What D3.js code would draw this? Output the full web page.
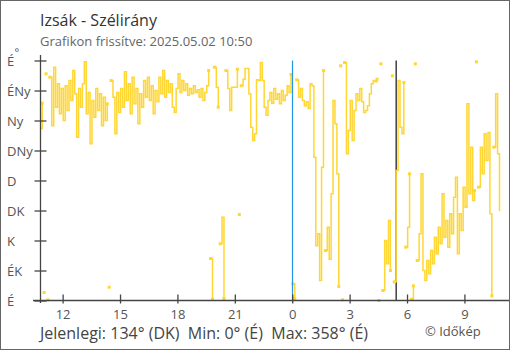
<!DOCTYPE html>
<html>
<head>
<meta charset="utf-8">
<script src="https://cdn.jsdelivr.net/npm/d3@7"></script>
<style>
  html, body { margin: 0; padding: 0; background: #fff; }
  svg { display: block; font-family: "Open Sans", "Noto Sans", sans-serif; }
  .pre { white-space: pre; }
</style>
</head>
<body>
<svg id="chart" width="510" height="350"></svg>
<script>
// Wind direction readings (degrees), one every 6 minutes over the last 24 hours
const startTime = "2025-05-01T10:50:00";
const endTime = "2025-05-02T10:50:00";
const stepMinutes = 6;
const windDir = [
  258, 296, 12, 340, 1, 335, 262, 350, 290, 325,
  280, 318, 270, 322, 285, 330, 300, 345, 310, 245,
  318, 290, 325, 358, 280, 312, 235, 300, 275, 318,
  285, 310, 262, 305, 270, 295, 20, 330, 305, 250,
  312, 282, 318, 290, 343, 300, 325, 280, 335, 295,
  318, 265, 310, 290, 330, 305, 335, 300, 322, 280,
  315, 298, 335, 310, 345, 305, 330, 312, 325, 290,
  282, 318, 340, 312, 330, 315, 325, 308, 318, 310,
  322, 312, 316, 305, 318, 300, 312, 322, 345, 63,
  2, 350, 320, 290, 85, 125, 3, 345, 318, 285,
  320, 320, 320, 347, 129, 322, 332, 348, 348, 310,
  260, 240, 250, 331, 330, 357, 330, 290, 278, 300,
  312, 296, 318, 302, 310, 295, 315, 300, 308, 322,
  312, 339, 25, 3, 331, 305, 318, 300, 292, 298,
  288, 325, 322, 215, 82, 100, 30, 200, 345, 75,
  110, 62, 160, 300, 265, 190, 21, 352, 1, 357,
  220, 255, 300, 240, 285, 310, 300, 318, 298, 282,
  285, 292, 310, 325, 330, 328, 332, 0, 355, 15,
  90, 55, 120, 45, 337, 28, 195, 330, 260, 250,
  327, 80, 110, 190, 2, 22, 355, 60, 100, 190,
  45, 30, 60, 40, 75, 55, 95, 70, 110, 85,
  160, 95, 120, 80, 130, 100, 155, 185, 70, 130,
  105, 170, 140, 295, 160, 230, 150, 165, 358, 170,
  230, 190, 250, 210, 252, 130, 7, 230, 310, 220,
  134
];

// Compass points on the value axis
const dirDegrees = [0, 45, 90, 135, 180, 225, 270, 315, 360];
const dirLabels = ["É", "ÉK", "K", "DK", "D", "DNy", "Ny", "ÉNy", "É"];

// Hour ticks on the time axis
const hourTicks = [
  "2025-05-01T12:00:00", "2025-05-01T15:00:00", "2025-05-01T18:00:00",
  "2025-05-01T21:00:00", "2025-05-02T00:00:00", "2025-05-02T03:00:00",
  "2025-05-02T06:00:00", "2025-05-02T09:00:00"
];
const midnight = "2025-05-02T00:00:00";
const sunrise = "2025-05-02T05:26:00";

const titleText = "Izsák - Szélirány";
const updatedText = "Grafikon frissítve: 2025.05.02 10:50";
const creditText = "© Időkép";

const svg = d3.select("#chart");
const W = 510, H = 350;

const t0 = new Date(startTime);
const points = windDir.map((v, i) => ({ t: new Date(t0.getTime() + i * stepMinutes * 60000), v }));

const x = d3.scaleTime().domain([new Date(startTime), new Date(endTime)]).range([40.3, 499.5]);
const y = d3.scaleLinear().domain([0, 360]).range([300.5, 60.5]);

// outer frame
svg.append("rect").attr("x", 0.5).attr("y", 0.5).attr("width", W - 1).attr("height", H - 1)
  .attr("fill", "#fff").attr("stroke", "#666").attr("stroke-width", 1);

// titles
svg.append("text").attr("x", 40).attr("y", 26).attr("font-size", 16).attr("fill", "#333").text(titleText);
svg.append("text").attr("x", 40).attr("y", 45.5).attr("font-size", 13).attr("fill", "#666").text(updatedText);

const axisColor = "#444";

// sunrise marker
svg.append("line")
  .attr("x1", x(new Date(sunrise))).attr("x2", x(new Date(sunrise)))
  .attr("y1", y(360)).attr("y2", y(0))
  .attr("stroke", "#333").attr("stroke-width", 1.4);

// split the series where the direction wraps across north
const segments = [];
let cur = [points[0]];
for (let i = 1; i < points.length; i++) {
  if (Math.abs(points[i].v - points[i - 1].v) > 180) { segments.push(cur); cur = []; }
  cur.push(points[i]);
}
segments.push(cur);

const line = d3.line().x(d => x(d.t)).y(d => y(d.v)).curve(d3.curveStepAfter);
const color = "#ffd633";

svg.append("g").selectAll("path").data(segments.filter(s => s.length > 1)).join("path")
  .attr("d", line).attr("fill", "none").attr("stroke", color)
  .attr("stroke-width", 1.5).attr("stroke-linejoin", "miter");

// end markers where a run is cut by the wrap
const markers = [];
segments.forEach((s, k) => {
  if (k > 0) markers.push(s[0]);
  if (k < segments.length - 1 && (s.length > 1 || k === 0)) markers.push(s[s.length - 1]);
});
svg.append("g").selectAll("rect").data(markers).join("rect")
  .attr("x", d => x(d.t) - 1.5).attr("y", d => y(d.v) - 1.5)
  .attr("width", 3).attr("height", 3).attr("fill", color);

// midnight marker
svg.append("line")
  .attr("x1", Math.round(x(new Date(midnight))) + 0.5).attr("x2", Math.round(x(new Date(midnight))) + 0.5)
  .attr("y1", y(360)).attr("y2", y(0))
  .attr("stroke", "#2196e8").attr("stroke-width", 1.2);

// y axis
const yAxis = d3.axisLeft(y).tickValues(dirDegrees).tickFormat((d, i) => dirLabels[i]).tickSize(0);
const gy = svg.append("g").attr("transform", "translate(40.5,0)").call(yAxis);
gy.select(".domain").remove();
gy.selectAll(".tick line").attr("x1", -6).attr("x2", 6).attr("stroke", axisColor).attr("stroke-width", 1.3);
gy.selectAll(".tick text").attr("x", -33.5).attr("text-anchor", "start").attr("dy", "0.35em")
  .attr("font-size", 13).attr("font-family", "Open Sans, sans-serif").attr("fill", "#555");
svg.append("line").attr("x1", 40.5).attr("x2", 40.5).attr("y1", 55).attr("y2", 303)
  .attr("stroke", axisColor).attr("stroke-width", 1.3);
svg.append("text").attr("x", 14.5).attr("y", 56).attr("font-size", 11).attr("fill", "#555").text("°");

// x axis
const fmt = d3.timeFormat("%-H");
const xAxis = d3.axisBottom(x).tickValues(hourTicks.map(s => new Date(s))).tickFormat(fmt).tickSize(0);
const gx = svg.append("g").attr("transform", "translate(0,300.5)").call(xAxis);
gx.select(".domain").remove();
gx.selectAll(".tick line").attr("y1", -6).attr("y2", 3).attr("stroke", axisColor).attr("stroke-width", 1.3);
gx.selectAll(".tick text").attr("y", 18.5).attr("dy", null)
  .attr("font-size", 13).attr("font-family", "Open Sans, sans-serif").attr("fill", "#555");
svg.append("line").attr("x1", 33).attr("x2", 509).attr("y1", 300.5).attr("y2", 300.5)
  .attr("stroke", axisColor).attr("stroke-width", 1.3);

// summary line
const dirName = v => dirLabels[Math.round(v / 45)];
const last = windDir[windDir.length - 1];
const vMin = d3.min(windDir), vMax = d3.max(windDir);
svg.append("text").attr("class", "pre").attr("x", 40).attr("y", 338.5).attr("font-size", 16).attr("fill", "#444")
  .text(`Jelenlegi: ${last}° (${dirName(last)})  Min: ${vMin}° (${dirName(vMin)})  Max: ${vMax}° (${dirName(vMax)})`);
svg.append("text").attr("x", 425).attr("y", 335.5).attr("font-size", 13).attr("fill", "#555").text(creditText);
</script>
</body>
</html>
